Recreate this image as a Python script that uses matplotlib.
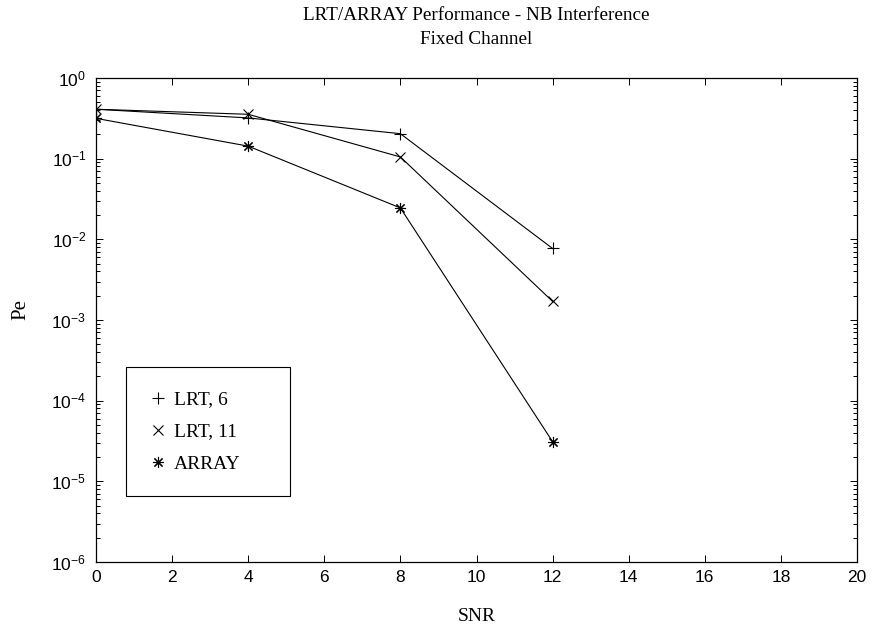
import matplotlib
matplotlib.use("Agg")
import matplotlib.pyplot as plt
from matplotlib.lines import Line2D
from matplotlib.ticker import FixedLocator, FixedFormatter, LogLocator, NullFormatter

# Error probability vs SNR for the three receivers
snr = [0, 4, 8, 12]
pe_lrt6 = [0.41, 0.32, 0.204, 0.0077]
pe_lrt11 = [0.41, 0.355, 0.105, 0.0017]
pe_array = [0.316, 0.143, 0.0245, 3.1e-5]

labels = ["LRT, 6", "LRT, 11", "ARRAY"]
x_ticks = [0, 2, 4, 6, 8, 10, 12, 14, 16, 18, 20]
y_exponents = [0, -1, -2, -3, -4, -5, -6]

title_line1 = "LRT/ARRAY Performance - NB Interference"
title_line2 = "Fixed Channel"

plt.rcParams["mathtext.fontset"] = "custom"
plt.rcParams["mathtext.rm"] = "Liberation Sans"
plt.rcParams["mathtext.it"] = "Liberation Sans"

serif = "Liberation Serif"
sans = "Liberation Sans"

W, H = 872, 634
fig = plt.figure(figsize=(W / 100, H / 100), dpi=100)
ax_l, ax_r, ax_t, ax_b = 96, 857, 78, 562
ax = fig.add_axes([ax_l / W, 1 - ax_b / H, (ax_r - ax_l) / W, (ax_b - ax_t) / H])

asterisk = (8, 2, 0)
lw = 0.8
ax.plot(snr, pe_lrt6, color="black", lw=lw, marker="+", ms=8, mew=0.8)
ax.plot(snr, pe_lrt11, color="black", lw=lw, marker="x", ms=7, mew=0.8)
ax.plot(snr, pe_array, color="black", lw=lw, marker=asterisk, ms=8, mew=0.8)

ax.set_yscale("log")
ax.set_xlim(0, 20)
ax.set_ylim(1e-6, 1)

ax.xaxis.set_major_locator(FixedLocator(x_ticks))
ax.xaxis.set_major_formatter(FixedFormatter([str(v) for v in x_ticks]))
ax.yaxis.set_major_locator(FixedLocator([10.0 ** e for e in y_exponents]))
ax.yaxis.set_major_formatter(FixedFormatter(["$10^{%d}$" % e for e in y_exponents]))
ax.yaxis.set_minor_locator(LogLocator(base=10, subs=range(2, 10), numticks=20))
ax.yaxis.set_minor_formatter(NullFormatter())

ax.tick_params(which="both", direction="in", top=True, right=True, width=0.7, color="black")
ax.tick_params(which="major", length=5)
ax.tick_params(which="minor", length=3)
ax.tick_params(axis="x", labelsize=12.5, pad=6)
ax.tick_params(axis="y", labelsize=12.5, pad=7)
for t in ax.get_xticklabels():
    t.set_fontfamily(sans)
for sp in ax.spines.values():
    sp.set_linewidth(0.9)

ax.set_xlabel("SNR", fontfamily=serif, fontsize=14, labelpad=16)
ax.set_ylabel("Pe", fontfamily=serif, fontsize=15, labelpad=15)
ax.yaxis.label.set_y((ax_b - 310) / (ax_b - ax_t))

cx = (ax_l + ax_r) / 2 / W
fig.text(cx, 1 - 16 / H, title_line1, ha="center", va="center", fontfamily=serif, fontsize=13.8)
fig.text(cx, 1 - 39 / H, title_line2, ha="center", va="center", fontfamily=serif, fontsize=13.8)

handles = [
    Line2D([], [], color="black", marker="+", ms=8, mew=0.8, ls="none"),
    Line2D([], [], color="black", marker="x", ms=7, mew=0.8, ls="none"),
    Line2D([], [], color="black", marker=asterisk, ms=8, mew=0.8, ls="none"),
]
leg = ax.legend(handles, labels, loc="upper left",
                bbox_to_anchor=(0.039, 0.134, 0.216, 0.268), mode="expand",
                prop={"family": serif, "size": 14}, fancybox=False, framealpha=1,
                edgecolor="black", borderpad=1.2, labelspacing=0.75,
                handlelength=0.9, handletextpad=0.4, borderaxespad=0)
leg.get_frame().set_linewidth(0.8)

fig.savefig("out.png", dpi=100)
